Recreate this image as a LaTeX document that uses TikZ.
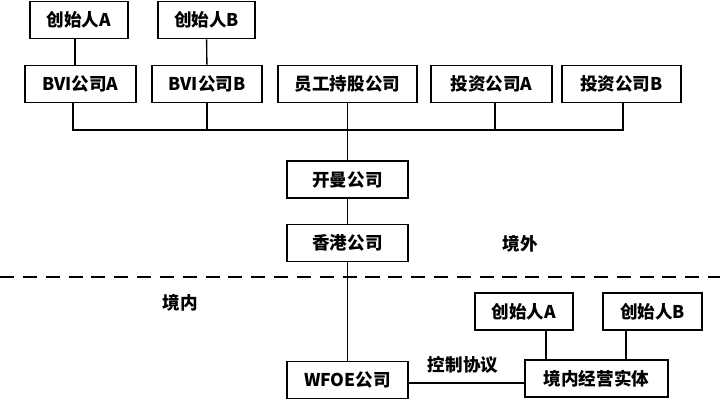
\documentclass[tikz,border=0pt]{standalone}
\usepackage{fontspec}
\setmainfont{Noto Sans CJK SC}
\usepackage{tikz}
\usetikzlibrary{positioning, calc}

\begin{document}
\begin{tikzpicture}[x=0.02cm, y=-0.02cm,
  box/.style={draw, line width=1.1pt, minimum height=0.74cm, inner sep=0pt, font=\bfseries\fontsize{10}{12}\selectfont},
  link/.style={line width=0.8pt},
  lbl/.style={font=\bfseries\fontsize{10}{12}\selectfont}]
 \useasboundingbox (0,0) rectangle (720,401);

 % Offshore founders
 \node[box, minimum width=1.96cm] (fA) at (79,20) {创始人A};
 \node[box, minimum width=1.94cm] (fB) at (206.5,20) {创始人B};

 % Holding layer
 \node[box, minimum width=2.22cm] (bviA) at (80.5,84) {BVI公司A};
 \node[box, minimum width=2.2cm] (bviB) at (207,84) {BVI公司B};
 \node[box, minimum width=2.78cm] (esop) at (347.5,84) {员工持股公司};
 \node[box, minimum width=2.42cm] (invA) at (491.5,84) {投资公司A};
 \node[box, minimum width=2.38cm] (invB) at (621.5,84) {投资公司B};

 \node[box, minimum width=2.42cm] (cayman) at (347.5,179.5) {开曼公司};
 \node[box, minimum width=2.42cm] (hk) at (347.5,243) {香港公司};

 % Onshore part
 \node[box, minimum width=2.42cm] (wfoe) at (347.5,380) {WFOE公司};
 \node[box, minimum width=2.86cm] (op) at (596.5,378.5) {境内经营实体};
 \node[box, minimum width=1.96cm] (gA) at (524,311.5) {创始人A};
 \node[box, minimum width=1.98cm] (gB) at (652.5,311.5) {创始人B};

 \node[lbl] (out) at (520,244) {境外};
 \node[lbl] (in) at (180,303) {境内};

 % Connectors
 \coordinate (bus) at (347,130);
 \draw[link] ([xshift=-0.08cm]fA.south) -- ([xshift=-0.08cm]fA.south |- bviA.north);
 \draw[link] (fB) -- (bviB);
 \draw[link] ([xshift=-0.15cm]bviA.south) |- (bus) -| ([xshift=0.03cm]invB.south);
 \draw[link] (bviB) -- (bviB |- bus);
 \draw[link] ([xshift=0.07cm]invA.south) -- ([xshift=0.07cm]invA.south |- bus);
 \draw[link] (esop) -- (cayman);
 \draw[link] (cayman) -- (hk);
 \draw[link] (hk) -- (wfoe);
 \draw[link] ([xshift=0.44cm]gA.south) -- ([xshift=0.44cm]gA.south |- op.north);
 \draw[link] ([xshift=-0.53cm]gB.south) -- ([xshift=-0.53cm]gB.south |- op.north);
 \draw[link] ([yshift=-0.06cm]wfoe.east) -- ([yshift=-0.06cm]wfoe.east -| op.west) node[lbl, pos=0.47, above=0.06cm] (ctrl) {控制协议};

 % Border line
 \draw[line width=1.1pt, dash pattern=on 8pt off 5pt] (0,277) -- (720,277);
\end{tikzpicture}
\end{document}
